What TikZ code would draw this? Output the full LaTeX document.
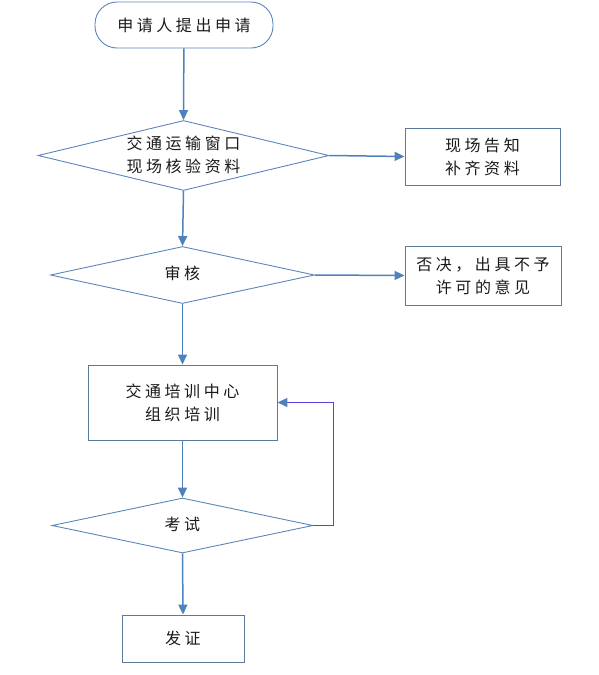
\documentclass[tikz,border=0pt]{standalone}
\usepackage{fontspec}
\newfontfamily\cjk[LetterSpace=22]{Noto Sans CJK SC}
\usetikzlibrary{shapes.geometric,arrows.meta}
\definecolor{arrc}{HTML}{4F81BD}
\definecolor{boxc}{HTML}{5B7A99}
\definecolor{diac}{HTML}{5A86BA}
\definecolor{fbc}{HTML}{5A3FD9}
\definecolor{txtc}{HTML}{1A1A1A}
\begin{document}
\begin{tikzpicture}[x=1pt,y=-1pt,
  every node/.style={font=\cjk\fontsize{16}{23}\selectfont, text=txtc, align=center, inner sep=0pt},
  term/.style={draw=diac, line width=0.9pt, rounded corners=22pt, rectangle},
  dia/.style={draw=diac, line width=0.9pt, diamond},
  box/.style={draw=boxc, line width=0.9pt, rectangle},
  txt/.style={},
  arr/.style={draw=arrc, line width=1.5pt, -{Triangle[length=10pt,width=9pt]}},
  fb/.style={draw=fbc, line width=1.2pt, -{Triangle[length=10pt,width=9pt,color=arrc]}}
]
\useasboundingbox (0,0) rectangle (599,675);
\node[term, minimum width=178pt, minimum height=46pt] (start) at (184,25) {申请人提出申请};
\node[dia, minimum width=291pt, minimum height=70pt] (d1) at (183.5,155.5) {};
\node[txt] (t1) at (183.5,155) {交通运输窗口\\现场核验资料};
\node[box, minimum width=155pt, minimum height=57pt] (b1) at (482.5,156.5) {现场告知\\补齐资料};
\node[dia, minimum width=264pt, minimum height=57pt] (d2) at (182.5,275) {};
\node[txt] (t2) at (182.5,273) {审核};
\node[box, minimum width=156pt, minimum height=59pt] (b2) at (483,275.5) {否决，出具不予\\许可的意见};
\node[box, minimum width=189pt, minimum height=75pt] (b3) at (182.5,402.5) {交通培训中心\\组织培训};
\node[dia, minimum width=261pt, minimum height=55pt] (d3) at (182.5,525.5) {};
\node[txt] (t3) at (182.5,524) {考试};
\node[box, minimum width=122pt, minimum height=47pt] (b4) at (183,638.5) {发证};
\draw[arr] (start) -- (d1.north);
\draw[arr] (d1.east) -- (b1.west);
\draw[arr] (d1.south) -- (d2.north);
\draw[arr] (d2.east) -- (b2.west);
\draw[arr] (d2.south) -- (b3.north);
\draw[arr] (b3.south) -- (d3.north);
\draw[arr] (d3.south) -- (b4.north);
\draw[fb] (d3.east) -- ++(20,0) |- (b3.east);
\end{tikzpicture}
\end{document}
